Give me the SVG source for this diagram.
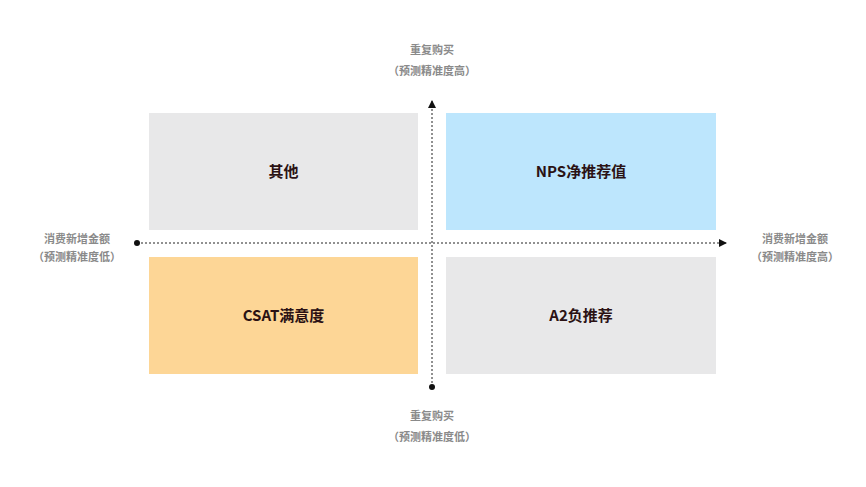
<svg xmlns="http://www.w3.org/2000/svg" width="866" height="487" viewBox="0 0 866 487">
<style>
.ax{font-family:"Noto Sans CJK SC","Noto Sans",sans-serif;font-size:11px;font-weight:bold;fill:#8a8a8a;text-anchor:middle}
.lb{font-family:"Noto Sans CJK SC","Noto Sans",sans-serif;font-size:15px;font-weight:bold;fill:#2b1214;text-anchor:middle}
.line{stroke:#222;stroke-width:1;stroke-dasharray:2 2;fill:none}
</style>
<defs>
<marker id="arr" markerWidth="8" markerHeight="8" refX="7" refY="4" orient="auto" markerUnits="userSpaceOnUse">
<path d="M0,0 L8,4 L0,8 z" fill="#111"/>
</marker>
</defs>
<rect width="866" height="487" fill="#fff"/>
<g id="q-other"><rect x="149" y="113" width="269" height="117" fill="#e8e8e9"/><text class="lb" x="283.5" y="177">其他</text></g>
<g id="q-nps"><rect x="446" y="113" width="270" height="117" fill="#bde6fd"/><text class="lb" x="581" y="177">NPS净推荐值</text></g>
<g id="q-csat"><rect x="149" y="257" width="269" height="117" fill="#fdd696"/><text class="lb" x="283.5" y="321">CSAT满意度</text></g>
<g id="q-a2"><rect x="446" y="257" width="270" height="117" fill="#e8e8e9"/><text class="lb" x="581" y="321">A2负推荐</text></g>
<g id="connectors">
<line class="line" x1="432" y1="387" x2="432" y2="101" marker-end="url(#arr)"/>
<circle cx="432" cy="387" r="3" fill="#111"/>
<line class="line" x1="137" y1="243" x2="726" y2="243" marker-end="url(#arr)"/>
<circle cx="137" cy="243" r="3" fill="#111"/>
</g>
<g id="labels">
<text class="ax" x="432" y="54">重复购买</text>
<text class="ax" x="432" y="75">（预测精准度高）</text>
<text class="ax" x="432" y="420">重复购买</text>
<text class="ax" x="432" y="441">（预测精准度低）</text>
<text class="ax" x="77" y="243">消费新增金额</text>
<text class="ax" x="77" y="261">（预测精准度低）</text>
<text class="ax" x="795" y="243">消费新增金额</text>
<text class="ax" x="795" y="261">（预测精准度高）</text>
</g>
</svg>
